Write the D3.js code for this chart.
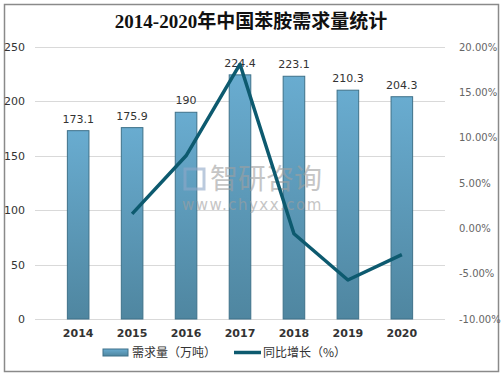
<!DOCTYPE html>
<html>
<head>
<meta charset="utf-8">
<script src="https://cdn.jsdelivr.net/npm/d3@7"></script>
<style>
  body { margin: 0; background: #fff; }
  svg { display: block; }
</style>
</head>
<body>
<div id="chart"></div>
<script>
const width = 503, height = 378;

const years = ['2014', '2015', '2016', '2017', '2018', '2019', '2020'];
const demand = [173.1, 175.9, 190, 224.4, 223.1, 210.3, 204.3];
// growth rate (%), first year has no value
const growth = [null, 1.6, 8.0, 18.1, -0.6, -5.7, -2.9];
const leftTicks = [0, 50, 100, 150, 200, 250];
const rightTicks = [-10, -5, 0, 5, 10, 15, 20];

const margin = { top: 47, right: 58, bottom: 59, left: 35 };
const x0 = margin.left, x1 = width - margin.right;
const y0 = height - margin.bottom, y1 = margin.top;

const x = d3.scaleBand().domain(years).range([x0, x1]).padding(0.6);
const y = d3.scaleLinear().domain([0, 250]).range([y0, y1]);
const yR = d3.scaleLinear().domain([-10, 20]).range([y0, y1]);

const svg = d3.select('#chart').append('svg')
  .attr('width', width)
  .attr('height', height);

const defs = svg.append('defs');
const grad = defs.append('linearGradient')
  .attr('id', 'barGrad')
  .attr('x1', 0).attr('y1', 0).attr('x2', 0).attr('y2', 1);
grad.append('stop').attr('offset', '0%').attr('stop-color', '#69acd0');
grad.append('stop').attr('offset', '100%').attr('stop-color', '#4f86a0');

// outer frame
svg.append('rect')
  .attr('x', 4.5).attr('y', 4.5)
  .attr('width', 494).attr('height', 367)
  .attr('fill', 'none')
  .attr('stroke', '#8a8a8a')
  .attr('stroke-width', 1.5);

svg.append('text')
  .attr('x', 251).attr('y', 28)
  .attr('text-anchor', 'middle')
  .style('font-family', '"Liberation Serif", "Noto Sans CJK SC", serif')
  .style('font-size', '19px')
  .style('font-weight', 'bold')
  .attr('fill', '#111')
  .text('2014-2020年中国苯胺需求量统计');

// gridlines
svg.append('g')
  .selectAll('line')
  .data(leftTicks)
  .join('line')
  .attr('x1', x0).attr('x2', x1)
  .attr('y1', d => Math.round(y(d)) + 0.5)
  .attr('y2', d => Math.round(y(d)) + 0.5)
  .attr('stroke', '#d9d9d9');

// left axis
const yAxis = d3.axisLeft(y).tickValues(leftTicks).tickSize(0).tickPadding(10);
svg.append('g')
  .attr('transform', `translate(${x0},0)`)
  .call(yAxis)
  .call(g => g.select('.domain').remove())
  .selectAll('text')
  .style('font-family', '"DejaVu Sans", sans-serif')
  .style('font-size', '11px')
  .attr('fill', '#333');

// right axis
const yAxisR = d3.axisRight(yR).tickValues(rightTicks).tickSize(0).tickPadding(14)
  .tickFormat(d => d.toFixed(2) + '%');
svg.append('g')
  .attr('transform', `translate(${x1},0)`)
  .call(yAxisR)
  .call(g => g.select('.domain').remove())
  .selectAll('text')
  .style('font-family', '"DejaVu Sans", sans-serif')
  .style('font-size', '10px')
  .attr('fill', '#666');

// x axis
const xAxis = d3.axisBottom(x).tickSize(0).tickPadding(10);
svg.append('g')
  .attr('transform', `translate(0,${y0})`)
  .call(xAxis)
  .call(g => g.select('.domain').remove())
  .selectAll('text')
  .style('font-family', '"DejaVu Sans", sans-serif')
  .style('font-size', '11px')
  .style('font-weight', 'bold')
  .attr('fill', '#333');

// bars
svg.append('g')
  .selectAll('rect')
  .data(demand)
  .join('rect')
  .attr('x', (d, i) => x(years[i]))
  .attr('y', d => y(d))
  .attr('width', x.bandwidth())
  .attr('height', d => y0 - y(d))
  .attr('fill', 'url(#barGrad)')
  .attr('stroke', '#3e7189')
  .attr('stroke-width', 1);

// bar labels
svg.append('g')
  .selectAll('text')
  .data(demand)
  .join('text')
  .attr('x', (d, i) => x(years[i]) + x.bandwidth() / 2)
  .attr('y', d => y(d) - 8)
  .attr('text-anchor', 'middle')
  .style('font-family', '"DejaVu Sans", sans-serif')
  .style('font-size', '11px')
  .attr('fill', '#333')
  .text(d => d);

// watermark, drawn over the bars
const wm = svg.append('g').attr('opacity', 0.6);
wm.append('rect').attr('x', 185).attr('y', 169).attr('width', 19).attr('height', 20)
  .attr('fill', 'none').attr('stroke', '#8fa8c8').attr('stroke-width', 3);
wm.append('text').attr('x', 210).attr('y', 189)
  .style('font-family', '"Noto Sans CJK SC", sans-serif')
  .style('font-size', '28px')
  .attr('fill', '#a0a0a0')
  .text('智研咨询');
wm.append('text').attr('x', 182).attr('y', 210)
  .style('font-family', '"DejaVu Sans", sans-serif')
  .style('font-size', '15px')
  .attr('letter-spacing', '1.5px')
  .attr('fill', '#a0a0a0')
  .text('www.chyxx.com');

// growth line
const line = d3.line()
  .defined(d => d != null)
  .x((d, i) => x(years[i]) + x.bandwidth() / 2)
  .y(d => yR(d));

svg.append('path')
  .attr('d', line(growth))
  .attr('fill', 'none')
  .attr('stroke', '#0d5a6f')
  .attr('stroke-width', 3.5)
  .attr('stroke-linejoin', 'round');

// legend
const lg = svg.append('g').attr('transform', 'translate(0,352)');
lg.append('rect').attr('x', 103).attr('y', -3).attr('width', 25).attr('height', 7)
  .attr('fill', 'url(#barGrad)').attr('stroke', '#3e7189');
lg.append('text').attr('x', 132).attr('y', 4.5)
  .style('font-family', '"Noto Sans CJK SC", sans-serif')
  .style('font-size', '12px')
  .attr('fill', '#333')
  .text('需求量（万吨）');
lg.append('line').attr('x1', 234).attr('x2', 261).attr('y1', 0.5).attr('y2', 0.5)
  .attr('stroke', '#0d5a6f').attr('stroke-width', 3.5);
lg.append('text').attr('x', 263).attr('y', 4.5)
  .style('font-family', '"Noto Sans CJK SC", sans-serif')
  .style('font-size', '12px')
  .attr('fill', '#333')
  .text('同比增长（%）');
</script>
</body>
</html>
